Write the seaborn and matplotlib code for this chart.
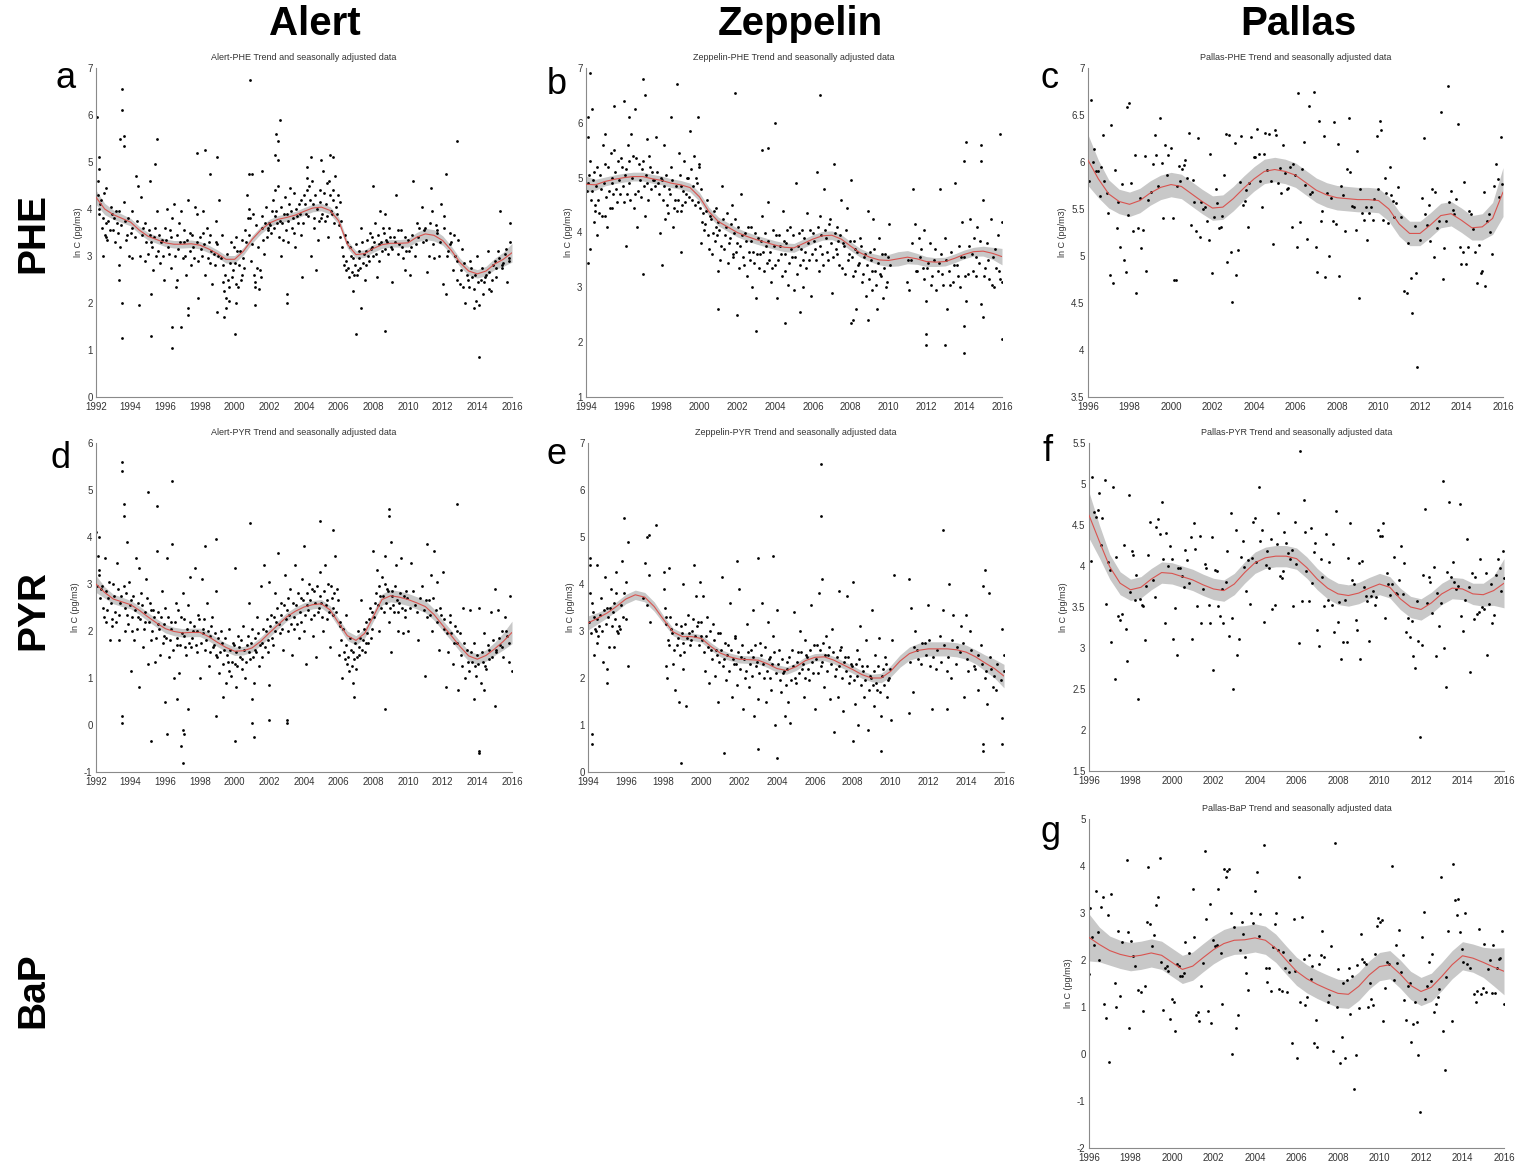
import numpy as np
import pandas as pd
import seaborn as sns
import matplotlib.pyplot as plt
from matplotlib.ticker import FuncFormatter

# ---------------- DATA ----------------
# Alert PHE (panel a)
alert_phe_pts = [(1992.05,5.95),(1992.1,4.6),(1992.2,5.1),(1992.2,4.85),(1993.5,6.55),(1993.5,6.1),(1993.6,5.55),(1993.6,5.35),(1993.4,5.5),(1993.5,2.0),(1993.5,1.25),(1993.3,2.5),(1993.3,2.8),(1994.5,1.95),(1995.2,1.3),(1995.5,5.5),(1995.4,4.95),(1995.1,4.6),(1995.2,2.2),(1996.4,1.05),(1996.4,1.5),(1996.9,1.5),(1997.3,1.75),(1997.3,1.9),(1997.9,2.1),(1997.8,5.2),(1998.3,5.25),(1998.6,4.75),(1999.0,5.1),(1999.0,1.8),(1999.4,1.7),(1999.5,1.9),(2000.0,1.35),(2000.1,2.0),(2000.9,6.75),(2000.8,4.75),(2001.0,4.75),(2001.2,1.95),(2001.6,4.8),(2002.4,5.6),(2002.5,5.45),(2002.6,5.9),(2002.3,5.15),(2002.5,5.05),(2003.0,2.0),(2003.0,2.2),(2004.4,5.1),(2004.2,4.9),(2005.0,5.05),(2005.5,5.15),(2005.7,5.1),(2007.3,1.9),(2007.0,1.35),(2008.7,1.4),(2008.0,4.5),(2010.3,4.6),(2012.2,4.75),(2012.8,5.45),(2014.1,0.85),(2013.8,1.9),(2015.3,3.95),(2015.9,3.7),
    (1992.1,4.3),(1992.15,4.0),(1992.2,3.9),(1992.3,4.2),(1992.4,3.8),(1992.5,3.45),(1992.6,3.4),(1992.7,3.75),(1992.8,3.55),(1992.9,3.9),(1992.4,3.0),(1992.6,4.45),(1993.0,3.55),(1993.1,3.3),(1993.2,3.7),(1993.3,3.95),(1993.4,3.2),(1993.6,4.15),(1993.7,3.75),(1993.8,3.45),(1993.9,3.0),(1994.0,3.5),(1994.1,3.6),(1994.1,2.95),(1994.3,4.7),(1994.4,4.5),(1994.6,4.25),(1994.7,3.6),(1994.8,2.9),(1994.9,3.3),(1995.0,3.05),(1995.1,3.45),(1995.2,3.3),(1995.3,2.7),(1995.4,3.6),(1995.5,3.95),(1995.6,3.1),(1995.7,2.85),(1995.8,3.35),(1995.9,2.5),(1996.0,3.6),(1996.1,4.0),(1996.2,3.05),(1996.3,2.75),(1996.4,3.8),(1996.5,4.1),(1996.6,2.35),(1996.7,2.5),(1996.8,3.7),(1996.9,3.95),(1997.0,2.95),(1997.1,3.3),(1997.2,2.6),(1997.3,4.2),(1997.4,3.5),(1997.5,2.8),(1997.6,3.2),(1997.7,4.05),(1997.8,3.9),(1997.9,2.9),(1998.0,3.4),(1998.1,3.0),(1998.2,3.95),(1998.3,2.6),(1998.4,3.6),(1998.5,3.3),(1998.6,2.85),(1998.7,2.4),(1998.8,3.05),(1998.9,3.75),(1999.0,3.25),(1999.1,4.2),(1999.2,2.95),(1999.3,2.45),(1999.4,2.25),(1999.5,2.1),(1999.6,2.5),(1999.7,2.05),(1999.8,3.3),(1999.9,2.7),(2000.0,2.85),(2000.1,3.4),(2000.2,2.35),(2000.3,3.1),(2000.4,2.6),(2000.5,2.95),(2000.6,3.55),(2000.7,4.3),(2000.8,4.0),(2000.9,3.8),(2001.0,3.25),(2001.1,2.6),(2001.2,2.35),(2001.3,2.75),(2001.4,2.3),(2001.5,2.55),(2001.6,3.6),(2001.7,3.05),(2001.8,4.05),(2001.9,3.55),(2002.0,3.7),(2002.1,3.5),(2002.2,4.2),(2002.3,4.4),(2002.4,3.95),(2002.5,4.5),(2002.6,3.75),(2002.7,3.0),(2002.8,3.35),(2002.9,4.25),(2003.0,3.9),(2003.1,3.3),(2003.2,4.45),(2003.3,3.6),(2003.4,4.35),(2003.5,3.2),(2003.6,3.85),(2003.7,4.1),(2003.8,3.45),(2003.9,2.55),(2004.0,4.3),(2004.1,3.9),(2004.2,4.65),(2004.3,4.5),(2004.4,3.0),(2004.5,4.1),(2004.6,3.6),(2004.7,2.7),(2004.8,3.35),(2004.9,4.4),(2005.0,3.8),(2005.1,4.8),(2005.2,3.75),(2005.3,4.55),(2005.4,3.4),(2005.5,4.3),(2005.6,3.9),(2005.7,4.4),(2005.8,4.7),(2005.9,3.9),(2006.0,3.65),(2006.1,4.15),(2006.2,3.2),(2006.3,2.8),(2006.4,2.7),(2006.5,3.3),(2006.6,2.55),(2006.7,3.0),(2006.8,2.25),(2006.9,2.6),(2007.0,3.25),(2007.1,2.7),(2007.2,2.95),(2007.3,3.6),(2007.4,2.85),(2007.5,2.5),(2007.6,3.1),(2007.7,3.0),(2007.8,3.5),(2007.9,3.2),(2008.0,3.0),(2008.1,3.7),(2008.2,2.55),(2008.3,3.25),(2008.4,3.95),(2008.5,3.1),(2008.6,3.5),(2008.7,3.9),(2008.8,3.3),(2008.9,3.6),(2009.0,3.2),(2009.1,2.45),(2009.2,3.4),(2009.3,4.3),(2009.4,3.05),(2009.5,3.25),(2009.6,3.55),(2009.7,2.95),(2009.8,2.7),(2009.9,3.1),(2010.0,3.35),(2010.1,2.6),(2010.2,3.2),(2010.4,3.0),(2010.5,3.7),(2010.6,3.4),(2010.8,4.05),(2010.9,3.55),(2011.0,3.6),(2011.1,2.65),(2011.2,3.0),(2011.3,4.45),(2011.4,3.95),(2011.5,2.95),(2011.6,3.65),(2011.7,3.5),(2011.8,3.0),(2011.9,4.1),(2012.0,2.4),(2012.1,3.85),(2012.2,2.2),(2012.3,3.1),(2012.4,3.5),(2012.5,3.3),(2012.6,2.7),(2012.7,3.0),(2012.8,2.5),(2012.9,3.35),(2013.0,2.4),(2013.1,3.15),(2013.2,2.35),(2013.3,2.0),(2013.4,2.6),(2013.5,2.35),(2013.6,2.9),(2013.7,2.55),(2013.8,2.3),(2013.9,2.05),(2014.0,3.0),(2014.1,1.95),(2014.2,2.5),(2014.3,2.2),(2014.4,2.45),(2014.5,2.6),(2014.6,3.1),(2014.7,2.3),(2014.8,2.25),(2014.9,2.8),(2015.0,2.9),(2015.1,2.55),(2015.2,3.1),(2015.4,2.75),(2015.5,2.85),(2015.6,3.05),(2015.7,2.45),(2015.8,2.95),(2015.9,3.3)]
alert_phe_pts_more = [(1992.25,4.1),(1992.35,3.6),(1992.45,4.35),(1992.55,3.7),(1992.65,3.35),(1992.85,4.05),(1993.05,3.8),(1993.15,3.95),(1993.25,3.5),(1993.45,3.65),(1993.75,3.35),(1993.85,3.8),(1994.05,3.95),(1994.25,3.4),(1994.35,3.75),(1994.55,3.0),(1994.65,3.45),(1994.85,3.7),(1995.05,3.55),(1995.25,3.2),(1995.35,3.4),(1995.45,3.0),(1995.65,3.45),(1995.75,3.3),(1995.85,3.0),(1996.05,3.35),(1996.15,3.2),(1996.25,3.55),(1996.35,3.4),(1996.55,3.0),(1996.65,3.45),(1996.75,3.15),(1996.85,3.3),(1997.05,3.55),(1997.15,3.0),(1997.25,3.35),(1997.45,3.1),(1997.55,3.45),(1997.65,2.95),(1997.85,3.3),(1998.05,3.15),(1998.15,3.5),(1998.25,3.25),(1998.45,2.95),(1998.55,3.45),(1998.65,3.1),(1998.85,2.8),(1998.95,3.3),(1999.05,3.0),(1999.25,3.45),(1999.35,2.8),(1999.45,2.6),(1999.55,3.05),(1999.65,2.35),(1999.75,2.85),(1999.85,2.55),(1999.95,3.2),(2000.05,2.4),(2000.15,3.1),(2000.25,2.8),(2000.35,2.5),(2000.45,3.35),(2000.55,2.75),(2000.65,3.3),(2000.75,3.8),(2000.85,3.45),(2000.95,2.9),(2001.05,3.9),(2001.15,2.45),(2001.25,3.65),(2001.35,3.2),(2001.45,2.7),(2001.55,3.85),(2001.65,3.35),(2001.75,3.7),(2001.85,3.4),(2001.95,3.6),(2002.05,3.65),(2002.15,3.95),(2002.25,3.6),(2002.35,3.85),(2002.45,3.7),(2002.55,3.4),(2002.65,4.05),(2002.75,3.7),(2002.85,3.9),(2002.95,3.55),(2003.05,3.75),(2003.15,4.1),(2003.25,3.95),(2003.35,3.8),(2003.45,3.5),(2003.55,4.0),(2003.65,3.7),(2003.75,3.9),(2003.85,4.2),(2003.95,3.7),(2004.05,4.1),(2004.15,4.4),(2004.25,3.85),(2004.35,4.2),(2004.45,4.6),(2004.55,3.8),(2004.65,4.3),(2004.75,4.0),(2004.85,3.75),(2004.95,4.15),(2005.05,3.9),(2005.15,4.35),(2005.25,4.1),(2005.35,3.85),(2005.45,4.6),(2005.55,3.95),(2005.65,4.2),(2005.75,3.7),(2005.85,4.05),(2005.95,4.3),(2006.05,3.4),(2006.15,3.75),(2006.25,3.0),(2006.35,3.45),(2006.45,2.9),(2006.55,2.75),(2006.65,3.2),(2006.75,2.65),(2006.85,2.95),(2006.95,2.8),(2007.05,2.6),(2007.15,3.1),(2007.25,2.75),(2007.35,3.3),(2007.45,3.05),(2007.55,2.8),(2007.65,3.35),(2007.75,2.9),(2007.85,3.15),(2007.95,3.4),(2008.05,3.3),(2008.15,3.05),(2008.25,3.45),(2008.35,2.9),(2008.45,3.3),(2008.55,3.6),(2008.65,3.15),(2008.75,3.35),(2008.85,3.05),(2008.95,3.4),(2009.05,3.15),(2009.25,3.3),(2009.45,3.55),(2009.65,3.2),(2009.85,3.4),(2010.05,3.1),(2010.25,3.45),(2010.45,3.25),(2010.65,3.6),(2010.85,3.3),(2011.05,3.35),(2011.25,3.7),(2011.45,3.25),(2011.65,3.55),(2011.85,3.3),(2012.05,3.6),(2012.25,3.0),(2012.45,3.25),(2012.65,3.45),(2012.85,2.9),(2013.05,2.7),(2013.25,2.85),(2013.45,2.5),(2013.65,2.75),(2013.85,2.6),(2014.05,2.45),(2014.25,2.75),(2014.45,2.55),(2014.65,2.65),(2014.85,2.5),(2015.05,2.75),(2015.25,2.95),(2015.45,2.8),(2015.65,3.15),(2015.85,2.9)]
alert_phe_trend = [4.25,4.0,3.88,3.8,3.72,3.55,3.42,3.35,3.28,3.25,
                   3.25,3.26,3.23,3.15,3.05,2.93,2.93,3.1,3.35,3.55,
                   3.7,3.78,3.82,3.87,3.95,4.02,4.04,3.97,3.75,3.25,
                   3.03,3.05,3.16,3.24,3.27,3.27,3.28,3.4,3.47,3.44,
                   3.33,3.12,2.86,2.68,2.62,2.68,2.83,2.93,3.07]
alert_phe_band = [0.15,0.12,0.10,0.09,0.08,0.08,0.08,0.08,0.08,0.08,
                  0.08,0.08,0.08,0.08,0.08,0.08,0.08,0.08,0.08,0.08,
                  0.08,0.08,0.08,0.08,0.08,0.08,0.08,0.08,0.08,0.08,
                  0.08,0.08,0.08,0.08,0.08,0.08,0.09,0.10,0.12,0.12,
                  0.10,0.09,0.09,0.09,0.09,0.10,0.12,0.15,0.20]

# Zeppelin PHE (panel b)
zep_phe_pts = [(1994.1,6.1),(1994.1,5.75),(1994.2,6.9),(1994.3,6.25),(1994.1,3.45),(1994.2,3.7),(1995.0,5.8),(1995.5,6.3),(1996.0,6.4),(1996.1,3.75),(1996.6,6.25),(1997.0,6.8),(1997.1,6.5),(1997.0,3.25),(1998.0,3.4),(1998.5,6.1),(1998.8,6.7),(1999.0,3.65),(1999.9,6.1),(2001.0,2.6),(2001.9,6.55),(2002.0,2.5),(2003.0,2.2),(2003.3,5.5),(2003.6,5.55),(2004.0,6.0),(2004.5,2.35),(2005.3,2.55),(2006.4,6.5),(2008.0,2.35),(2008.1,2.4),(2008.9,2.4),(2012.0,2.15),(2012.0,1.95),(2013.0,1.95),(2014.0,1.8),(2014.0,2.3),(2014.0,5.3),(2014.1,5.65),(2014.9,5.6),(2014.9,5.3),(2015.9,5.8),(2016.0,2.05),(2011.3,4.8),(2015.0,2.45),
    (1994.1,4.9),(1994.2,5.3),(1994.3,4.75),(1994.4,4.2),(1994.4,5.1),(1994.5,4.5),(1994.6,3.95),(1994.6,5.2),(1994.7,4.35),(1994.8,4.8),(1994.9,5.6),(1995.0,4.3),(1995.0,5.25),(1995.1,4.1),(1995.2,4.75),(1995.3,5.45),(1995.4,5.0),(1995.4,4.45),(1995.5,5.5),(1995.6,4.8),(1995.7,5.3),(1995.8,4.7),(1995.9,5.2),(1996.0,4.55),(1996.1,5.15),(1996.2,5.6),(1996.3,6.1),(1996.3,4.9),(1996.4,5.8),(1996.5,5.4),(1996.6,4.7),(1996.7,4.1),(1996.8,5.25),(1996.9,4.65),(1997.0,5.3),(1997.1,4.3),(1997.2,5.7),(1997.3,4.6),(1997.4,5.2),(1997.5,5.1),(1997.6,4.95),(1997.7,5.75),(1997.8,4.9),(1997.9,4.0),(1998.0,4.95),(1998.1,5.6),(1998.2,4.25),(1998.3,4.5),(1998.4,4.8),(1998.5,5.2),(1998.6,4.1),(1998.7,4.6),(1998.8,4.4),(1998.9,5.45),(1999.0,4.85),(1999.1,4.5),(1999.2,5.3),(1999.3,4.7),(1999.4,5.0),(1999.5,5.85),(1999.6,4.6),(1999.7,5.4),(1999.8,5.0),(1999.9,4.55),(2000.0,5.2),(2000.1,4.8),(2000.1,3.8),(2000.2,4.35),(2000.3,4.15),(2000.4,4.6),(2000.5,3.7),(2000.6,4.25),(2000.7,4.0),(2000.8,3.85),(2000.9,4.45),(2001.0,4.2),(2001.0,3.3),(2001.1,3.5),(2001.2,4.85),(2001.3,3.7),(2001.4,4.1),(2001.5,3.45),(2001.6,3.9),(2001.7,4.5),(2001.8,3.6),(2001.9,4.25),(2002.0,3.8),(2002.1,3.35),(2002.2,4.7),(2002.3,3.55),(2002.4,4.0),(2002.5,3.2),(2002.6,3.65),(2002.7,4.1),(2002.8,3.0),(2002.9,3.45),(2003.0,2.8),(2003.1,3.9),(2003.2,3.6),(2003.3,4.3),(2003.4,3.3),(2003.5,3.75),(2003.6,4.55),(2003.7,3.5),(2003.8,3.1),(2003.9,4.05),(2004.0,3.4),(2004.1,2.8),(2004.2,3.95),(2004.3,3.6),(2004.4,4.4),(2004.5,3.3),(2004.6,3.8),(2004.7,3.05),(2004.8,4.1),(2004.9,3.55),(2005.0,2.95),(2005.1,4.9),(2005.2,3.75),(2005.3,3.4),(2005.4,4.05),(2005.5,3.0),(2005.6,3.65),(2005.7,4.35),(2005.8,3.5),(2005.9,2.85),(2006.0,4.0),(2006.1,3.7),(2006.2,5.1),(2006.3,3.3),(2006.4,4.3),(2006.5,3.6),(2006.6,4.8),(2006.7,3.9),(2006.8,3.5),(2006.9,4.25),(2007.0,2.9),(2007.1,5.25),(2007.2,3.7),(2007.3,4.1),(2007.4,3.4),(2007.5,4.6),(2007.6,3.8),(2007.7,3.25),(2007.8,4.45),(2007.9,3.6),(2008.0,4.95),(2008.1,3.2),(2008.2,3.7),(2008.3,2.6),(2008.4,3.4),(2008.5,3.9),(2008.6,3.1),(2008.7,3.55),(2008.8,2.85),(2008.9,4.4),(2009.0,3.65),(2009.1,2.95),(2009.2,4.25),(2009.3,3.3),(2009.4,2.6),(2009.5,3.9),(2009.6,3.2),(2009.7,2.8),(2009.8,3.6),(2009.9,3.1),(2010.0,4.15),(2010.1,3.4),(2011.0,3.1),(2011.1,2.95),(2011.2,3.5),(2011.4,4.15),(2011.5,3.3),(2011.6,3.9),(2011.7,3.7),(2011.8,3.35),(2011.9,4.05),(2012.0,2.75),(2012.1,3.45),(2012.2,3.8),(2012.3,3.2),(2012.4,3.5),(2012.5,2.95),(2012.6,3.3),(2012.7,4.8),(2012.8,3.6),(2012.9,3.05),(2013.0,3.9),(2013.1,2.6),(2013.2,3.3),(2013.3,3.65),(2013.4,3.1),(2013.5,4.9),(2013.6,3.4),(2013.7,3.75),(2013.8,3.0),(2013.9,4.2),(2014.0,3.55),(2014.1,2.75),(2014.2,3.25),(2014.3,4.25),(2014.4,3.6),(2014.5,3.9),(2014.6,3.2),(2014.7,4.1),(2014.8,3.45),(2014.9,2.7),(2015.0,4.6),(2015.1,3.35),(2015.2,3.8),(2015.3,3.15),(2015.4,4.25),(2015.5,3.55),(2015.6,3.0),(2015.7,3.35),(2015.8,3.95),(2015.9,3.15),(2016.0,4.2),(2016.0,3.1)]
zep_phe_pts_more = [(1994.05,4.75),(1994.15,5.05),(1994.25,4.6),(1994.35,4.95),(1994.45,4.4),(1994.55,4.85),(1994.65,4.6),(1994.75,5.05),(1994.85,4.3),(1994.95,4.9),(1995.05,4.65),(1995.15,5.2),(1995.25,4.45),(1995.35,4.9),(1995.45,4.7),(1995.55,5.1),(1995.65,4.55),(1995.75,4.95),(1995.85,5.35),(1995.95,4.85),(1996.05,5.05),(1996.15,4.7),(1996.25,5.3),(1996.35,4.6),(1996.45,5.0),(1996.55,4.45),(1996.65,5.35),(1996.75,4.75),(1996.85,4.95),(1996.95,5.15),(1997.05,4.85),(1997.15,5.05),(1997.25,4.9),(1997.35,5.4),(1997.45,4.8),(1997.55,4.95),(1997.65,4.85),(1997.75,5.1),(1997.85,4.7),(1997.95,5.0),(1998.05,4.6),(1998.15,4.85),(1998.25,5.05),(1998.35,4.35),(1998.45,4.7),(1998.55,4.95),(1998.65,4.45),(1998.75,4.85),(1998.85,4.6),(1998.95,5.05),(1999.05,4.4),(1999.15,4.75),(1999.25,4.55),(1999.35,5.0),(1999.45,4.65),(1999.55,5.15),(1999.65,4.85),(1999.75,4.5),(1999.85,4.9),(1999.95,5.25),(2000.05,4.45),(2000.15,4.2),(2000.25,4.05),(2000.35,4.4),(2000.45,3.95),(2000.55,4.3),(2000.65,3.6),(2000.75,4.4),(2000.85,4.1),(2000.95,3.95),(2001.05,4.05),(2001.15,3.75),(2001.25,4.25),(2001.35,3.95),(2001.45,4.35),(2001.55,3.8),(2001.65,4.15),(2001.75,3.55),(2001.85,4.0),(2001.95,3.65),(2002.05,4.1),(2002.15,3.75),(2002.25,3.95),(2002.35,3.4),(2002.45,3.85),(2002.55,4.1),(2002.65,3.5),(2002.75,3.85),(2002.85,3.65),(2002.95,4.0),(2003.05,3.6),(2003.15,3.35),(2003.25,3.85),(2003.35,3.65),(2003.45,4.0),(2003.55,3.45),(2003.65,3.85),(2003.75,3.65),(2003.85,3.35),(2003.95,3.75),(2004.05,3.95),(2004.15,3.5),(2004.25,3.75),(2004.35,3.2),(2004.45,3.85),(2004.55,3.6),(2004.65,4.05),(2004.75,3.45),(2004.85,3.7),(2004.95,3.95),(2005.05,3.55),(2005.15,3.25),(2005.25,4.0),(2005.35,3.7),(2005.45,3.5),(2005.55,3.9),(2005.65,3.35),(2005.75,3.8),(2005.85,4.05),(2005.95,3.6),(2006.05,3.85),(2006.15,3.5),(2006.25,4.1),(2006.35,3.75),(2006.45,3.95),(2006.55,3.4),(2006.65,4.05),(2006.75,3.65),(2006.85,4.15),(2006.95,3.8),(2007.05,3.55),(2007.15,4.0),(2007.25,3.6),(2007.35,3.85),(2007.45,3.95),(2007.55,3.35),(2007.65,3.75),(2007.75,4.05),(2007.85,3.5),(2007.95,3.85),(2008.05,3.55),(2008.15,3.85),(2008.25,3.3),(2008.35,3.65),(2008.45,3.45),(2008.55,3.75),(2008.65,3.25),(2008.75,3.6),(2008.85,3.4),(2008.95,3.15),(2009.05,3.5),(2009.15,3.3),(2009.25,3.7),(2009.35,3.05),(2009.45,3.45),(2009.55,3.25),(2009.65,3.6),(2009.75,3.35),(2009.85,3.0),(2009.95,3.55),(2011.05,3.5),(2011.25,3.8),(2011.45,3.3),(2011.65,3.55),(2011.85,3.15),(2012.05,3.35),(2012.25,3.05),(2012.45,3.7),(2012.65,3.45),(2012.85,3.25),(2013.05,3.5),(2013.25,3.05),(2013.45,3.4),(2013.65,3.2),(2013.85,3.55),(2014.05,3.2),(2014.25,3.75),(2014.45,3.3),(2014.65,3.55),(2014.85,3.85),(2015.05,3.2),(2015.25,3.5),(2015.45,3.05),(2015.65,3.7),(2015.85,3.3)]
zep_phe_trend = [4.88,4.87,4.93,4.97,5.0,5.02,5.02,4.98,4.95,4.9,
                 4.87,4.82,4.65,4.38,4.2,4.1,4.0,3.93,3.87,3.82,
                 3.77,3.73,3.72,3.8,3.88,3.94,3.95,3.88,3.75,3.63,
                 3.55,3.5,3.49,3.52,3.55,3.52,3.47,3.46,3.47,3.53,
                 3.6,3.65,3.66,3.62,3.56]
zep_phe_band = [0.15,0.10,0.08,0.08,0.08,0.08,0.08,0.08,0.08,0.08,
                0.08,0.08,0.08,0.08,0.08,0.08,0.08,0.08,0.08,0.08,
                0.08,0.08,0.08,0.08,0.08,0.08,0.08,0.08,0.08,0.08,
                0.08,0.09,0.11,0.13,0.12,0.10,0.09,0.08,0.08,0.08,
                0.08,0.08,0.09,0.11,0.15]

# Pallas PHE (panel c)
pal_phe_pts = [(1996.06,5.8),(1996.13,6.66),(1996.24,6.0),(1996.3,6.14),(1996.39,5.9),(1996.48,5.9),(1996.56,5.64),(1996.64,5.95),(1996.72,6.29),(1996.79,5.8),(1996.9,5.67),(1996.98,5.46),(1997.06,4.8),(1997.12,6.39),(1997.2,4.71),(1997.3,5.91),(1997.38,5.3),(1997.46,5.57),(1997.54,5.1),(1997.64,5.77),(1997.73,4.96),(1997.83,4.83),(1997.9,6.59),(1997.99,6.63),(1997.94,5.44),(1998.09,5.78),(1998.18,5.27),(1998.25,6.07),(1998.33,4.61),(1998.41,5.3),(1998.49,5.62),(1998.57,5.09),(1998.65,5.28),(1998.73,6.06),(1998.81,4.84),(1998.91,5.6),(1999.04,5.68),(1999.13,5.98),(1999.21,6.29),(1999.29,6.07),(1999.37,5.75),(1999.47,6.47),(1999.55,5.99),(1999.63,5.4),(1999.71,6.18),(1999.79,5.86),(1999.87,6.07),(1999.98,6.15),(2000.1,5.4),(2000.13,4.74),(2000.24,4.74),(2000.29,5.75),(2000.37,5.96),(2000.45,5.8),(2000.53,5.93),(2000.61,5.97),(2000.69,6.02),(2000.77,5.83),(2000.87,6.31),(2000.95,5.33),(2001.04,5.81),(2001.12,5.57),(2001.2,5.27),(2001.3,6.26),(2001.38,5.2),(2001.46,5.57),(2001.56,5.5),(2001.64,5.52),(2001.73,5.37),(2001.82,5.17),(2001.9,6.09),(2001.96,4.82),(2002.06,5.42),(2002.15,5.71),(2002.23,5.56),(2002.31,5.3),(2002.39,5.31),(2002.46,5.43),(2002.55,5.86),(2002.63,6.3),(2002.71,4.94),(2002.8,6.29),(2002.88,5.04),(2002.94,4.51),(2003.07,6.2),(2003.13,4.8),(2003.23,5.06),(2003.31,5.79),(2003.39,6.28),(2003.45,5.54),(2003.55,5.59),(2003.63,5.7),(2003.73,5.31),(2003.78,5.78),(2003.87,6.27),(2003.98,6.05),(2004.06,6.05),(2004.14,6.35),(2004.22,6.08),(2004.31,5.8),(2004.39,5.52),(2004.47,6.09),(2004.55,6.31),(2004.63,5.92),(2004.72,6.3),(2004.82,5.8),(2004.9,5.13),(2004.99,6.34),(2005.08,6.29),(2005.16,5.78),(2005.24,5.94),(2005.32,5.67),(2005.4,6.18),(2005.49,5.88),(2005.57,5.71),(2005.65,5.72),(2005.74,5.95),(2005.82,5.31),(2005.9,5.98),(2005.98,5.86),(2006.06,5.1),(2006.14,6.73),(2006.23,5.36),(2006.31,5.93),(2006.39,6.21),(2006.46,5.76),(2006.54,5.18),(2006.63,6.6),(2006.71,5.66),(2006.8,5.68),(2006.89,6.74),(2006.97,5.1),(2007.05,4.83),(2007.13,6.44),(2007.21,5.37),(2007.29,5.48),(2007.36,6.28),(2007.44,4.78),(2007.53,5.67),(2007.61,5.0),(2007.71,5.62),(2007.79,5.37),(2007.87,6.43),(2007.95,5.34),(2008.03,6.19),(2008.11,4.79),(2008.19,5.75),(2008.29,5.65),(2008.39,5.27),(2008.48,5.93),(2008.56,6.47),(2008.64,5.89),(2008.72,5.53),(2008.8,5.52),(2008.9,5.28),(2008.98,6.12),(2009.04,4.55),(2009.12,5.71),(2009.22,5.46),(2009.3,5.38),(2009.38,5.52),(2009.46,5.17),(2009.54,5.46),(2009.62,5.52),(2009.72,5.38),(2009.8,5.61),(2009.93,6.28),(2009.99,5.71),(2010.07,6.44),(2010.14,6.34),(2010.22,5.38),(2010.3,5.83),(2010.38,5.67),(2010.46,5.35),(2010.54,5.95),(2010.62,5.65),(2010.7,5.59),(2010.76,5.42),(2010.86,5.56),(2010.96,5.73),(2011.07,5.41),(2011.21,4.63),(2011.37,4.61),(2011.44,5.14),(2011.55,4.77),(2011.63,4.39),(2011.74,5.32),(2011.81,4.82),(2011.87,3.82),(2011.98,5.17),(2012.08,5.62),(2012.18,6.26),(2012.26,5.45),(2012.34,5.33),(2012.42,5.54),(2012.5,5.16),(2012.59,5.71),(2012.67,4.99),(2012.73,5.68),(2012.82,5.3),(2012.9,5.37),(2013.01,6.53),(2013.11,4.76),(2013.17,5.08),(2013.25,5.37),(2013.33,6.81),(2013.4,5.57),(2013.49,5.69),(2013.57,5.49),(2013.65,5.45),(2013.73,5.61),(2013.81,6.4),(2013.91,5.1),(2013.99,4.91),(2014.06,5.04),(2014.14,5.79),(2014.22,4.91),(2014.3,5.1),(2014.38,5.48),(2014.47,5.45),(2014.55,5.29),(2014.67,5.04),(2014.75,4.71),(2014.83,5.12),(2014.92,4.82),(2015.0,4.84),(2015.07,5.68),(2015.15,4.68),(2015.23,5.37),(2015.31,5.45),(2015.39,5.26),(2015.49,5.02),(2015.57,5.74),(2015.65,5.98),(2015.74,5.82),(2015.82,5.63),(2015.9,6.27),(2015.97,5.77)]
pal_phe_trend = [6.02,5.82,5.66,5.58,5.55,5.59,5.67,5.73,5.76,5.74,
                 5.66,5.58,5.51,5.52,5.61,5.72,5.82,5.9,5.92,5.9,
                 5.86,5.78,5.7,5.65,5.62,5.61,5.6,5.6,5.59,5.5,
                 5.34,5.24,5.24,5.33,5.43,5.45,5.38,5.3,5.31,5.4,
                 5.68]
pal_phe_band = [0.27,0.20,0.15,0.13,0.13,0.13,0.13,0.13,0.13,0.13,
                0.13,0.13,0.13,0.13,0.13,0.13,0.13,0.13,0.13,0.13,
                0.13,0.13,0.13,0.13,0.13,0.13,0.13,0.13,0.13,0.13,
                0.13,0.13,0.13,0.13,0.13,0.13,0.13,0.13,0.14,0.17,
                0.26]

# Alert PYR (panel d)
alert_pyr_pts = [(1992.0,4.1),(1992.2,4.0),(1992.1,3.6),(1993.5,5.6),(1993.5,5.4),(1993.6,4.7),(1993.6,4.45),(1993.8,3.9),(1993.5,0.2),(1993.5,0.05),(1994.5,0.8),(1994.0,1.15),(1995.0,4.95),(1995.2,-0.35),(1995.5,4.65),(1996.1,-0.2),(1996.4,5.2),(1996.0,0.5),(1996.7,0.55),(1997.0,-0.1),(1996.9,-0.45),(1997.0,-0.8),(1997.1,-0.2),(1997.3,0.35),(1998.3,3.8),(1998.9,3.95),(1998.9,0.2),(2000.0,-0.35),(2000.0,3.35),(2000.9,4.3),(2001.0,0.05),(2001.1,-0.25),(2001.0,0.55),(2002.0,0.85),(2002.0,0.1),(2003.0,0.05),(2003.0,0.1),(2004.9,4.35),(2005.7,4.15),(2006.9,0.6),(2008.7,0.35),(2008.9,4.6),(2008.9,4.45),(2009.0,3.9),(2011.1,3.85),(2011.5,3.7),(2012.8,4.7),(2014.1,-0.55),(2014.1,-0.6),(2013.8,0.55),(2014.4,0.75),(2015.0,0.4),
    (1992.2,3.3),(1992.3,2.9),(1992.4,2.5),(1992.5,3.55),(1992.6,2.2),(1992.7,2.7),(1992.8,1.8),(1992.9,2.1),(1993.0,3.0),(1993.1,2.4),(1993.2,3.45),(1993.3,1.8),(1993.4,2.6),(1993.6,2.95),(1993.7,2.0),(1993.8,2.35),(1993.9,3.05),(1994.0,2.65),(1994.1,2.0),(1994.2,1.8),(1994.3,3.55),(1994.4,2.3),(1994.5,3.35),(1994.6,2.8),(1994.7,1.65),(1994.8,2.2),(1994.9,3.1),(1995.0,1.3),(1995.1,2.6),(1995.2,1.8),(1995.3,2.45),(1995.4,1.35),(1995.5,3.7),(1995.6,2.15),(1995.7,1.5),(1995.8,2.85),(1995.9,1.9),(1996.0,2.5),(1996.1,3.55),(1996.2,1.45),(1996.3,2.2),(1996.4,3.85),(1996.5,1.0),(1996.6,2.6),(1996.7,1.7),(1996.8,1.1),(1996.9,2.3),(1997.0,2.8),(1997.1,1.9),(1997.2,1.5),(1997.3,2.55),(1997.4,3.15),(1997.5,1.65),(1997.6,2.0),(1997.7,3.35),(1997.8,1.55),(1997.9,2.35),(1998.0,1.0),(1998.1,3.1),(1998.2,2.05),(1998.3,1.6),(1998.4,2.6),(1998.5,1.25),(1998.6,1.9),(1998.7,2.3),(1998.8,1.7),(1998.9,2.85),(1999.0,1.45),(1999.1,1.1),(1999.2,2.0),(1999.3,0.6),(1999.4,1.6),(1999.5,0.9),(1999.6,1.35),(1999.7,2.05),(1999.8,1.05),(1999.9,1.75),(2000.0,1.3),(2000.1,0.8),(2000.2,1.9),(2000.3,1.45),(2000.4,1.2),(2000.5,2.1),(2000.6,1.0),(2000.7,1.7),(2000.8,2.6),(2000.9,1.4),(2001.0,2.05),(2001.1,0.9),(2001.2,1.6),(2001.3,2.3),(2001.4,1.25),(2001.5,2.95),(2001.6,1.75),(2001.7,3.4),(2001.8,2.0),(2001.9,1.55),(2002.0,3.05),(2002.1,2.35),(2002.2,1.7),(2002.3,2.8),(2002.4,2.2),(2002.5,3.65),(2002.6,1.95),(2002.7,2.6),(2002.8,1.6),(2002.9,3.2),(2003.0,2.45),(2003.1,2.0),(2003.2,2.9),(2003.3,1.5),(2003.4,2.3),(2003.5,3.4),(2003.6,2.15),(2003.7,1.85),(2003.8,2.7),(2003.9,3.1),(2004.0,3.8),(2004.0,2.0),(2004.1,1.3),(2004.2,2.55),(2004.3,3.0),(2004.4,2.25),(2004.5,1.9),(2004.6,2.85),(2004.7,1.45),(2004.8,2.4),(2004.9,3.25),(2005.0,2.6),(2005.1,2.0),(2005.2,3.4),(2005.3,2.25),(2005.4,3.0),(2005.5,1.65),(2005.6,2.7),(2005.7,2.35),(2005.8,3.6),(2005.9,2.9),(2006.0,1.5),(2006.1,2.1),(2006.2,1.0),(2006.3,1.55),(2006.4,2.35),(2006.5,1.3),(2006.6,1.15),(2006.7,1.6),(2006.8,0.9),(2006.9,1.4),(2007.0,1.2),(2007.1,2.0),(2007.2,1.5),(2007.3,2.65),(2007.4,1.8),(2007.5,1.55),(2007.6,2.2),(2007.7,1.75),(2007.8,2.5),(2007.9,2.05),(2008.0,3.7),(2008.1,2.6),(2008.2,3.3),(2008.3,2.0),(2008.4,2.75),(2008.5,3.15),(2008.6,2.4),(2008.7,3.6),(2008.8,2.9),(2008.9,2.2),(2009.0,1.55),(2009.1,2.85),(2009.2,2.4),(2009.3,3.4),(2009.4,2.0),(2009.5,2.6),(2009.6,3.55),(2009.7,1.95),(2009.8,2.3),(2009.9,2.85),(2010.0,2.0),(2010.2,3.45),(2010.4,2.55),(2010.6,1.8),(2010.8,2.95),(2011.0,1.05),(2011.1,2.3),(2011.2,2.65),(2011.3,3.2),(2011.4,2.0),(2011.6,2.45),(2011.7,3.05),(2011.8,1.6),(2011.9,2.35),(2012.0,3.25),(2012.1,2.05),(2012.2,0.8),(2012.3,1.55),(2012.4,2.35),(2012.5,1.95),(2012.6,1.3),(2012.7,2.1),(2012.8,1.75),(2012.9,0.75),(2013.0,1.95),(2013.1,1.25),(2013.2,2.5),(2013.3,1.0),(2013.4,1.6),(2013.5,1.15),(2013.6,2.45),(2013.7,1.35),(2013.8,1.75),(2013.9,1.05),(2014.0,1.5),(2014.1,2.5),(2014.2,0.9),(2014.3,1.35),(2014.4,1.95),(2014.5,1.2),(2014.6,1.7),(2014.7,1.4),(2014.8,2.4),(2014.9,1.8),(2015.0,2.9),(2015.1,1.55),(2015.2,2.45),(2015.3,1.7),(2015.4,2.0),(2015.5,1.45),(2015.6,2.3),(2015.7,1.9),(2015.8,1.35),(2015.9,2.75),(2016.0,1.15)]
alert_pyr_pts_more = [(1992.05,2.95),(1992.15,3.2),(1992.25,2.7),(1992.35,2.95),(1992.45,2.3),(1992.55,2.85),(1992.65,2.45),(1992.75,3.05),(1992.85,2.6),(1992.95,2.25),(1993.05,2.75),(1993.15,2.2),(1993.25,2.9),(1993.35,2.35),(1993.45,2.75),(1993.65,2.5),(1993.75,2.8),(1993.85,2.15),(1993.95,2.55),(1994.05,2.3),(1994.15,2.75),(1994.25,2.45),(1994.35,2.05),(1994.45,2.6),(1994.55,2.25),(1994.65,2.55),(1994.75,2.05),(1994.85,2.4),(1994.95,2.7),(1995.05,2.2),(1995.15,2.45),(1995.25,2.0),(1995.35,2.3),(1995.45,1.85),(1995.55,2.4),(1995.65,2.05),(1995.75,2.3),(1995.85,1.75),(1995.95,2.15),(1996.05,1.85),(1996.15,2.3),(1996.25,1.8),(1996.35,2.05),(1996.45,1.6),(1996.55,2.2),(1996.65,1.85),(1996.75,2.45),(1996.85,1.7),(1996.95,1.95),(1997.05,2.25),(1997.15,1.65),(1997.25,2.05),(1997.35,1.75),(1997.45,2.2),(1997.55,1.85),(1997.65,2.1),(1997.75,1.7),(1997.85,2.0),(1997.95,2.25),(1998.05,1.75),(1998.15,1.95),(1998.25,2.25),(1998.35,1.8),(1998.45,2.0),(1998.55,1.55),(1998.65,2.1),(1998.75,1.65),(1998.85,1.95),(1998.95,1.5),(1999.05,1.85),(1999.15,1.55),(1999.25,1.75),(1999.35,1.3),(1999.45,1.85),(1999.55,1.5),(1999.65,1.15),(1999.75,1.6),(1999.85,1.35),(1999.95,1.7),(2000.05,1.55),(2000.15,1.25),(2000.25,1.65),(2000.35,1.8),(2000.45,1.4),(2000.55,1.6),(2000.65,1.35),(2000.75,1.9),(2000.85,1.55),(2000.95,1.75),(2001.05,1.45),(2001.15,1.85),(2001.25,1.55),(2001.35,1.95),(2001.45,1.7),(2001.55,1.45),(2001.65,2.05),(2001.75,1.65),(2001.85,2.25),(2001.95,1.8),(2002.05,2.1),(2002.15,1.85),(2002.25,2.3),(2002.35,2.0),(2002.45,2.5),(2002.55,2.15),(2002.65,2.35),(2002.75,2.05),(2002.85,2.55),(2002.95,2.25),(2003.05,2.7),(2003.15,2.35),(2003.25,2.15),(2003.35,2.6),(2003.45,2.05),(2003.55,2.55),(2003.65,2.8),(2003.75,2.4),(2003.85,2.2),(2003.95,2.65),(2004.05,2.35),(2004.15,2.8),(2004.25,2.45),(2004.35,2.65),(2004.45,2.9),(2004.55,2.35),(2004.65,2.6),(2004.75,2.95),(2004.85,2.5),(2004.95,2.75),(2005.05,2.3),(2005.15,2.85),(2005.25,2.55),(2005.35,2.65),(2005.45,2.4),(2005.55,2.95),(2005.65,2.5),(2005.75,2.8),(2005.85,2.4),(2005.95,2.65),(2006.05,2.2),(2006.15,1.8),(2006.25,2.05),(2006.35,1.4),(2006.45,1.7),(2006.55,1.45),(2006.65,1.85),(2006.75,1.25),(2006.85,1.55),(2006.95,1.75),(2007.05,1.45),(2007.15,1.65),(2007.25,1.85),(2007.35,1.6),(2007.45,2.05),(2007.55,1.75),(2007.65,1.95),(2007.75,2.25),(2007.85,1.85),(2007.95,2.4),(2008.05,2.3),(2008.15,2.8),(2008.25,2.55),(2008.35,2.95),(2008.45,2.5),(2008.55,2.75),(2008.65,3.0),(2008.75,2.6),(2008.85,2.85),(2008.95,2.5),(2009.05,2.75),(2009.15,2.55),(2009.25,2.95),(2009.35,2.65),(2009.45,2.4),(2009.55,2.8),(2009.65,2.5),(2009.75,2.75),(2009.85,2.45),(2009.95,2.7),(2010.1,2.5),(2010.3,2.85),(2010.5,2.4),(2010.7,2.7),(2010.9,2.45),(2011.05,2.65),(2011.25,2.35),(2011.45,2.7),(2011.65,2.2),(2011.85,2.5),(2012.05,2.25),(2012.25,1.95),(2012.45,2.2),(2012.65,1.75),(2012.85,2.0),(2013.05,1.5),(2013.25,1.75),(2013.45,1.35),(2013.65,1.55),(2013.85,1.25),(2014.05,1.3),(2014.25,1.55),(2014.45,1.25),(2014.65,1.6),(2014.85,1.45),(2015.05,1.6),(2015.25,1.85),(2015.45,1.65),(2015.65,2.0),(2015.85,1.75)]
alert_pyr_trend = [3.0,2.82,2.68,2.62,2.56,2.44,2.3,2.17,2.05,1.99,
                   1.96,1.97,1.97,1.88,1.76,1.65,1.57,1.58,1.64,1.78,
                   1.96,2.13,2.3,2.42,2.51,2.56,2.58,2.45,2.17,1.9,
                   1.8,1.95,2.31,2.67,2.75,2.72,2.67,2.6,2.52,2.35,
                   2.12,1.9,1.67,1.47,1.4,1.48,1.62,1.78,1.97]
alert_pyr_band = [0.18,0.12,0.10,0.10,0.09,0.09,0.09,0.09,0.09,0.09,
                  0.09,0.09,0.09,0.09,0.09,0.09,0.09,0.09,0.09,0.09,
                  0.09,0.09,0.09,0.09,0.09,0.09,0.09,0.09,0.09,0.10,
                  0.10,0.10,0.10,0.12,0.13,0.13,0.13,0.13,0.13,0.12,
                  0.11,0.11,0.11,0.11,0.11,0.12,0.14,0.18,0.24]

# Zeppelin PYR (panel e)
zep_pyr_pts = [(1994.1,4.55),(1994.1,4.4),(1994.2,0.8),(1994.2,0.6),(1995.0,1.9),(1995.9,5.4),(1996.1,4.9),(1996.1,2.25),(1997.1,5.0),(1997.2,5.05),(1997.6,5.25),(1998.9,0.2),(2001.2,0.4),(2001.9,4.5),(2003.0,4.55),(2003.0,0.5),(2003.8,4.6),(2004.0,0.3),(2006.3,6.55),(2006.3,5.45),(2012.8,5.15),(2014.9,0.45),(2014.9,0.6),(2015.9,0.6),(2015.9,1.15),(2015.0,4.3),(2013.1,4.0),
    (1994.1,3.8),(1994.2,3.6),(1994.3,3.3),(1994.3,2.5),(1994.4,3.0),(1994.5,2.75),(1994.5,4.4),(1994.6,3.1),(1994.7,3.7),(1994.8,2.35),(1994.9,4.15),(1995.0,3.5),(1995.0,2.2),(1995.1,2.65),(1995.2,3.9),(1995.3,3.4),(1995.4,2.65),(1995.5,3.8),(1995.5,4.25),(1995.6,2.95),(1995.7,3.05),(1995.8,4.5),(1995.9,3.8),(1996.0,4.05),(1996.0,3.25),(1996.9,3.7),(1997.0,4.45),(1997.1,3.55),(1997.2,4.2),(1997.3,3.2),(1998.0,4.25),(1998.0,3.9),(1998.1,3.3),(1998.1,2.25),(1998.2,2.0),(1998.3,4.35),(1998.3,2.7),(1998.4,3.05),(1998.5,2.3),(1998.6,1.75),(1998.7,2.7),(1998.8,1.5),(1998.9,3.1),(1999.0,2.2),(1999.0,4.0),(1999.1,2.55),(1999.2,1.4),(1999.3,3.35),(1999.4,2.7),(1999.5,3.0),(1999.6,4.4),(1999.7,3.75),(1999.8,3.2),(1999.9,4.05),(2000.0,2.9),(2000.1,3.75),(2000.2,2.15),(2000.3,3.3),(2000.4,1.9),(2000.5,2.6),(2000.6,3.15),(2000.7,2.05),(2000.8,2.5),(2000.9,1.5),(2001.0,2.95),(2001.1,4.15),(2001.2,2.4),(2001.3,1.95),(2001.4,2.7),(2001.5,3.6),(2001.6,1.6),(2001.7,2.3),(2001.8,2.9),(2001.9,1.85),(2002.0,3.9),(2002.1,2.45),(2002.2,1.35),(2002.3,2.0),(2002.4,3.15),(2002.5,1.8),(2002.6,2.6),(2002.7,3.45),(2002.8,1.2),(2002.9,2.25),(2003.0,1.55),(2003.1,2.75),(2003.2,3.6),(2003.3,2.0),(2003.4,1.5),(2003.5,3.2),(2003.6,2.45),(2003.7,1.75),(2003.8,2.9),(2003.9,1.0),(2004.0,3.45),(2004.1,2.6),(2004.2,1.7),(2004.3,2.1),(2004.4,1.2),(2004.5,2.35),(2004.6,1.5),(2004.7,1.05),(2004.8,2.6),(2004.9,3.4),(2005.0,1.9),(2005.1,2.55),(2005.2,3.0),(2005.3,2.2),(2005.4,1.6),(2005.5,2.8),(2005.6,2.45),(2005.7,1.95),(2005.8,3.55),(2005.9,2.1),(2006.0,1.35),(2006.1,2.7),(2006.2,3.8),(2006.3,2.25),(2006.4,4.1),(2006.5,1.8),(2006.6,2.9),(2006.7,2.5),(2006.8,1.55),(2006.9,3.05),(2007.0,0.85),(2007.1,2.2),(2007.2,1.6),(2007.3,3.85),(2007.4,2.65),(2007.5,1.3),(2007.6,2.45),(2007.7,3.75),(2007.8,1.9),(2007.9,2.3),(2008.0,4.05),(2008.0,0.65),(2008.1,1.45),(2008.2,2.6),(2008.3,1.0),(2008.4,3.1),(2008.5,2.25),(2008.6,1.6),(2008.7,2.8),(2008.8,0.9),(2008.9,2.05),(2009.0,3.45),(2009.1,1.4),(2009.2,2.5),(2009.3,1.75),(2009.4,2.85),(2009.5,0.45),(2009.5,1.2),(2009.6,2.2),(2009.7,2.45),(2009.8,1.6),(2009.9,2.0),(2010.0,1.1),(2010.1,2.8),(2010.2,4.2),(2011.0,4.1),(2011.0,1.25),(2011.1,3.5),(2011.2,1.7),(2011.3,3.0),(2011.4,2.6),(2011.6,2.3),(2011.8,2.75),(2012.0,3.55),(2012.1,2.25),(2012.2,1.35),(2012.4,2.2),(2012.6,2.9),(2012.8,3.45),(2013.0,1.35),(2013.0,2.15),(2013.2,2.0),(2013.3,3.35),(2013.5,2.65),(2013.7,3.1),(2013.9,1.6),(2014.0,3.35),(2014.1,2.15),(2014.2,3.0),(2014.4,2.25),(2014.6,1.75),(2014.8,2.7),(2014.9,3.95),(2015.0,2.0),(2015.1,1.45),(2015.2,3.8),(2015.3,2.2),(2015.4,1.8),(2015.6,1.75),(2015.9,3.05),(2016.0,2.5),(2016.0,2.15)]
zep_pyr_pts_more = [(1994.05,3.2),(1994.15,2.95),(1994.25,3.4),(1994.35,3.05),(1994.45,3.25),(1994.55,2.9),(1994.65,3.35),(1994.75,3.0),(1994.85,3.45),(1994.95,3.15),(1995.05,3.3),(1995.15,3.5),(1995.25,3.1),(1995.35,3.6),(1995.45,3.25),(1995.55,3.0),(1995.65,3.1),(1995.75,3.55),(1995.85,3.3),(1998.05,3.5),(1998.15,3.15),(1998.25,2.8),(1998.35,3.3),(1998.45,2.95),(1998.55,2.6),(1998.65,3.15),(1998.75,2.85),(1998.85,2.5),(1998.95,2.95),(1999.05,2.75),(1999.15,3.15),(1999.25,2.85),(1999.35,2.95),(1999.45,2.8),(1999.55,3.25),(1999.65,2.9),(1999.75,3.1),(1999.85,2.7),(1999.95,3.2),(2000.05,2.8),(2000.15,2.55),(2000.25,2.9),(2000.35,2.65),(2000.45,3.0),(2000.55,2.4),(2000.65,2.8),(2000.75,2.6),(2000.85,2.95),(2000.95,2.35),(2001.05,2.6),(2001.15,2.25),(2001.25,2.75),(2001.35,2.5),(2001.45,2.15),(2001.55,2.6),(2001.65,2.4),(2001.75,2.85),(2001.85,2.3),(2001.95,2.55),(2002.05,2.2),(2002.15,2.7),(2002.25,2.4),(2002.35,2.15),(2002.45,2.55),(2002.55,2.3),(2002.65,2.05),(2002.75,2.45),(2002.85,2.7),(2002.95,2.35),(2003.05,2.1),(2003.15,2.5),(2003.25,2.3),(2003.35,2.65),(2003.45,2.15),(2003.55,2.4),(2003.65,2.0),(2003.75,2.3),(2003.85,2.55),(2003.95,2.1),(2004.05,2.3),(2004.15,1.95),(2004.25,2.4),(2004.35,2.15),(2004.45,1.85),(2004.55,2.2),(2004.65,2.45),(2004.75,1.95),(2004.85,2.25),(2004.95,2.0),(2005.05,2.35),(2005.15,2.1),(2005.25,2.55),(2005.35,2.3),(2005.45,2.0),(2005.55,2.5),(2005.65,2.2),(2005.75,2.6),(2005.85,2.35),(2005.95,2.7),(2006.05,2.4),(2006.15,2.1),(2006.25,2.6),(2006.35,2.35),(2006.45,2.75),(2006.55,2.5),(2006.65,2.15),(2006.75,2.65),(2006.85,2.3),(2006.95,2.55),(2007.05,2.05),(2007.15,2.45),(2007.25,2.25),(2007.35,2.6),(2007.45,2.0),(2007.55,2.35),(2007.65,2.15),(2007.75,2.45),(2007.85,2.05),(2007.95,2.25),(2008.05,1.95),(2008.15,2.3),(2008.25,2.05),(2008.35,2.4),(2008.45,1.85),(2008.55,2.15),(2008.65,1.95),(2008.75,2.25),(2008.85,1.75),(2008.95,2.0),(2009.05,1.85),(2009.15,2.15),(2009.25,1.9),(2009.35,2.25),(2009.45,1.7),(2009.55,2.05),(2009.65,1.85),(2009.75,2.3),(2009.85,1.95),(2009.95,2.2),(2011.05,2.35),(2011.25,2.65),(2011.45,2.4),(2011.65,2.75),(2011.85,2.5),(2012.05,2.8),(2012.25,2.45),(2012.45,2.6),(2012.65,2.35),(2012.85,2.7),(2013.05,2.45),(2013.25,2.8),(2013.45,2.3),(2013.65,2.55),(2013.85,2.75),(2014.05,2.4),(2014.25,2.6),(2014.45,2.2),(2014.65,2.5),(2014.85,2.3),(2015.05,2.15),(2015.25,2.45),(2015.45,2.05),(2015.65,2.3),(2015.85,1.95)]
zep_pyr_trend = [3.17,3.27,3.38,3.52,3.68,3.77,3.72,3.52,3.24,2.98,
                 2.88,2.88,2.84,2.67,2.53,2.45,2.4,2.39,2.38,2.3,
                 2.2,2.16,2.24,2.37,2.44,2.45,2.38,2.28,2.18,2.07,
                 2.0,2.0,2.14,2.36,2.52,2.59,2.62,2.62,2.62,2.6,
                 2.55,2.45,2.32,2.2,2.04]
zep_pyr_band = [0.15,0.12,0.10,0.10,0.10,0.10,0.10,0.10,0.08,0.08,
                0.08,0.08,0.08,0.08,0.08,0.08,0.08,0.08,0.08,0.08,
                0.08,0.08,0.08,0.08,0.08,0.08,0.08,0.08,0.08,0.08,
                0.08,0.10,0.12,0.13,0.14,0.15,0.15,0.15,0.15,0.15,
                0.15,0.15,0.17,0.20,0.25]

# Pallas PYR (panel f)
pal_pyr_pts = [(1996.13,5.09),(1996.08,4.06),(1996.24,4.66),(1996.32,4.6),(1996.42,4.68),(1996.48,4.89),(1996.56,4.26),(1996.64,4.58),(1996.76,5.05),(1996.84,3.54),(1996.93,4.05),(1997.0,3.95),(1997.08,3.07),(1997.14,4.96),(1997.24,2.62),(1997.32,4.11),(1997.4,3.39),(1997.48,3.34),(1997.58,3.41),(1997.69,4.26),(1997.77,3.23),(1997.82,2.84),(1997.93,4.87),(1997.99,3.68),(1998.06,4.18),(1998.14,4.13),(1998.2,3.59),(1998.28,3.89),(1998.36,2.38),(1998.46,3.6),(1998.54,3.52),(1998.62,3.51),(1998.68,3.1),(1998.77,3.76),(1998.85,4.13),(1998.96,4.54),(1999.07,3.83),(1999.17,3.62),(1999.23,4.47),(1999.31,4.57),(1999.41,4.39),(1999.54,4.78),(1999.57,4.09),(1999.65,3.3),(1999.73,4.4),(1999.83,4.0),(1999.91,4.25),(2000.0,4.09),(2000.07,3.11),(2000.15,3.49),(2000.23,2.91),(2000.31,3.98),(2000.4,3.97),(2000.49,3.88),(2000.57,3.74),(2000.65,4.19),(2000.73,4.07),(2000.82,3.79),(2000.92,4.35),(2000.98,3.11),(2001.05,4.53),(2001.13,4.21),(2001.22,3.51),(2001.34,4.36),(2001.42,3.31),(2001.48,3.72),(2001.58,4.02),(2001.66,3.97),(2001.76,3.53),(2001.84,3.31),(2001.92,4.35),(2001.98,2.73),(2002.08,3.95),(2002.16,3.94),(2002.24,3.51),(2002.32,3.39),(2002.4,3.72),(2002.48,3.3),(2002.58,3.8),(2002.66,4.18),(2002.75,3.15),(2002.83,4.65),(2002.9,3.37),(2002.96,2.5),(2003.09,4.44),(2003.15,2.91),(2003.23,3.11),(2003.31,4.11),(2003.41,4.31),(2003.49,3.99),(2003.59,3.7),(2003.67,4.07),(2003.75,3.54),(2003.85,4.1),(2003.91,4.54),(2003.99,4.59),(2004.07,4.05),(2004.17,4.96),(2004.26,4.31),(2004.34,4.44),(2004.44,3.32),(2004.52,4.01),(2004.6,4.18),(2004.68,3.98),(2004.76,4.33),(2004.84,3.48),(2004.94,3.53),(2005.04,4.27),(2005.12,4.65),(2005.2,3.88),(2005.28,3.85),(2005.36,3.94),(2005.42,4.41),(2005.5,4.28),(2005.6,4.16),(2005.68,4.09),(2005.76,4.19),(2005.84,3.51),(2005.94,4.54),(2006.0,4.03),(2006.1,3.06),(2006.16,5.4),(2006.26,3.57),(2006.34,4.8),(2006.42,4.41),(2006.48,3.94),(2006.58,3.57),(2006.68,4.46),(2006.76,3.79),(2006.84,4.17),(2006.9,4.28),(2007.0,3.22),(2007.09,3.03),(2007.19,4.08),(2007.25,3.87),(2007.33,3.51),(2007.4,4.39),(2007.5,3.58),(2007.58,4.05),(2007.69,3.53),(2007.77,4.27),(2007.82,3.2),(2007.9,4.67),(2007.98,3.32),(2008.06,3.56),(2008.15,2.87),(2008.25,3.07),(2008.33,3.59),(2008.41,3.07),(2008.49,4.1),(2008.59,4.53),(2008.67,3.83),(2008.77,3.78),(2008.85,3.34),(2008.93,3.22),(2008.99,4.04),(2009.05,2.86),(2009.15,4.06),(2009.25,3.74),(2009.33,3.63),(2009.42,3.57),(2009.5,3.09),(2009.59,3.63),(2009.67,3.7),(2009.76,3.52),(2009.84,3.62),(2009.94,4.44),(2010.02,4.36),(2010.1,4.36),(2010.18,4.52),(2010.26,3.36),(2010.34,3.91),(2010.42,3.78),(2010.5,3.65),(2010.6,3.78),(2010.68,4.11),(2010.78,3.67),(2010.86,3.66),(2010.94,3.83),(2011.03,4.24),(2011.11,3.66),(2011.19,4.04),(2011.27,3.19),(2011.35,3.36),(2011.45,3.13),(2011.55,3.33),(2011.61,2.9),(2011.69,2.76),(2011.79,3.57),(2011.87,3.09),(2011.95,1.91),(2012.03,3.04),(2012.11,3.89),(2012.21,4.69),(2012.29,3.55),(2012.37,3.87),(2012.45,3.8),(2012.55,3.43),(2012.62,3.99),(2012.7,2.9),(2012.78,3.67),(2012.88,3.27),(2012.96,3.55),(2013.06,5.04),(2013.12,3.0),(2013.19,2.53),(2013.27,3.93),(2013.36,4.78),(2013.43,3.87),(2013.52,4.05),(2013.6,3.8),(2013.68,3.72),(2013.76,3.76),(2013.88,4.76),(2013.94,3.39),(2014.03,3.21),(2014.11,3.58),(2014.2,4.33),(2014.3,3.74),(2014.38,2.71),(2014.46,3.91),(2014.54,3.35),(2014.62,3.87),(2014.7,3.42),(2014.78,3.44),(2014.86,4.08),(2014.95,3.5),(2015.03,3.47),(2015.11,3.91),(2015.2,2.92),(2015.28,3.54),(2015.36,3.78),(2015.44,3.31),(2015.53,3.4),(2015.61,3.89),(2015.69,4.09),(2015.79,3.97),(2015.87,3.7),(2015.94,4.18),(2015.98,3.85)]
pal_pyr_trend = [4.62,4.3,3.99,3.79,3.71,3.74,3.84,3.92,3.91,3.87,
                 3.83,3.77,3.72,3.7,3.78,3.92,4.04,4.1,4.12,4.12,
                 4.09,3.98,3.84,3.73,3.66,3.64,3.67,3.73,3.78,3.74,
                 3.6,3.5,3.47,3.55,3.66,3.73,3.72,3.66,3.65,3.7,
                 3.79]
pal_pyr_band = [0.28,0.20,0.15,0.14,0.13,0.13,0.13,0.13,0.13,0.13,
                0.13,0.13,0.13,0.13,0.13,0.13,0.13,0.13,0.13,0.13,
                0.13,0.13,0.13,0.13,0.13,0.13,0.13,0.13,0.13,0.13,
                0.13,0.13,0.13,0.13,0.13,0.13,0.13,0.13,0.14,0.18,
                0.30]

# Pallas BaP (panel g)
pal_bap_pts = [(1996.0,1.7),(1996.06,3.11),(1996.16,2.5),(1996.24,2.31),(1996.34,3.47),(1996.42,2.6),(1996.5,1.99),(1996.56,3.13),(1996.66,3.33),(1996.74,1.06),(1996.82,0.76),(1996.92,2.96),(1996.98,-0.18),(1997.06,3.41),(1997.24,1.52),(1997.32,0.99),(1997.4,2.62),(1997.48,1.24),(1997.58,2.38),(1997.83,4.12),(1997.9,2.6),(1997.95,0.55),(1998.04,2.41),(1998.12,2.09),(1998.2,1.87),(1998.35,1.37),(1998.52,1.31),(1998.6,0.91),(1998.7,1.44),(1998.78,2.81),(1998.86,3.97),(1998.96,2.77),(1999.05,2.3),(1999.15,2.54),(1999.22,3.16),(1999.31,3.35),(1999.41,4.18),(1999.49,1.95),(1999.57,0.93),(1999.65,1.84),(1999.75,1.87),(1999.83,1.77),(1999.89,0.75),(2000.0,1.18),(2000.08,1.1),(2000.15,0.49),(2000.23,1.91),(2000.32,1.87),(2000.4,1.67),(2000.49,1.67),(2000.57,1.73),(2000.65,2.38),(2000.82,2.14),(2001.0,3.52),(2001.08,2.48),(2001.16,0.82),(2001.26,0.89),(2001.32,0.7),(2001.42,1.44),(2001.5,1.94),(2001.58,4.32),(2001.66,2.88),(2001.74,0.91),(2001.84,3.19),(2001.9,0.67),(2002.0,2.42),(2002.08,2.29),(2002.16,2.31),(2002.24,3.51),(2002.34,2.15),(2002.42,1.07),(2002.5,3.94),(2002.58,3.77),(2002.66,3.89),(2002.74,3.94),(2002.83,3.01),(2002.9,-0.01),(2003.01,2.7),(2003.09,0.55),(2003.17,0.82),(2003.27,2.21),(2003.35,2.8),(2003.43,2.56),(2003.51,2.06),(2003.59,1.73),(2003.67,1.37),(2003.83,3.01),(2003.89,2.78),(2003.99,3.46),(2004.09,3.88),(2004.18,2.52),(2004.26,2.98),(2004.44,4.45),(2004.52,1.83),(2004.6,1.54),(2004.68,1.84),(2004.76,1.33),(2004.86,2.28),(2004.94,2.77),(2005.02,2.99),(2005.1,2.21),(2005.18,1.38),(2005.28,1.33),(2005.36,2.17),(2005.44,1.84),(2005.53,1.31),(2005.62,1.74),(2005.7,1.99),(2005.78,0.23),(2005.87,2.88),(2005.94,1.76),(2006.03,-0.09),(2006.1,3.77),(2006.19,1.1),(2006.27,2.91),(2006.35,2.03),(2006.43,1.05),(2006.51,1.21),(2006.61,2.1),(2006.69,1.6),(2006.77,1.87),(2006.85,0.23),(2006.92,0.73),(2007.01,0.14),(2007.09,1.91),(2007.17,2.11),(2007.25,2.62),(2007.33,2.06),(2007.5,1.1),(2007.59,1.25),(2007.67,2.3),(2007.75,0.07),(2007.85,4.5),(2007.93,1.01),(2008.01,1.8),(2008.09,-0.19),(2008.17,0.36),(2008.25,1.52),(2008.33,-0.09),(2008.43,1.58),(2008.51,1.82),(2008.59,0.85),(2008.67,1.67),(2008.75,-0.75),(2008.85,-0.03),(2008.93,1.89),(2009.01,0.98),(2009.1,2.56),(2009.18,2.02),(2009.26,1.96),(2009.36,1.91),(2009.44,1.01),(2009.52,1.52),(2009.6,1.16),(2009.68,1.05),(2009.78,2.12),(2009.86,2.73),(2009.94,2.89),(2010.02,2.81),(2010.1,2.86),(2010.18,0.71),(2010.26,1.4),(2010.36,1.96),(2010.44,1.91),(2010.61,3.99),(2010.69,1.58),(2010.78,2.31),(2010.86,1.94),(2010.94,2.64),(2011.02,1.74),(2011.11,2.11),(2011.19,1.15),(2011.27,0.73),(2011.37,1.45),(2011.45,1.52),(2011.53,0.25),(2011.61,0.64),(2011.71,1.11),(2011.79,0.68),(2011.87,-0.03),(2011.95,-1.23),(2012.03,2.48),(2012.13,3.03),(2012.21,1.16),(2012.31,1.44),(2012.39,1.96),(2012.46,1.55),(2012.54,2.13),(2012.64,0.89),(2012.72,1.06),(2012.8,1.21),(2012.88,1.38),(2012.98,3.77),(2013.06,0.5),(2013.14,-0.33),(2013.22,1.64),(2013.32,2.62),(2013.48,0.7),(2013.56,4.05),(2013.64,3.28),(2013.72,2.95),(2013.8,3.3),(2013.88,2.6),(2013.97,2.24),(2014.04,1.95),(2014.13,3.0),(2014.21,1.92),(2014.37,1.84),(2014.55,1.27),(2014.63,1.1),(2014.71,1.34),(2014.81,2.66),(2014.87,1.28),(2014.97,1.4),(2015.03,2.34),(2015.13,1.31),(2015.25,1.81),(2015.33,1.99),(2015.41,1.3),(2015.49,2.31),(2015.57,1.3),(2015.67,1.83),(2015.74,2.02),(2015.82,2.04),(2015.9,2.62),(2015.98,1.06)]
pal_bap_trend = [2.48,2.33,2.2,2.12,2.07,2.1,2.15,2.1,1.95,1.8,
                 1.87,2.05,2.22,2.35,2.42,2.43,2.47,2.42,2.25,2.0,
                 1.76,1.6,1.48,1.38,1.29,1.27,1.44,1.68,1.86,1.9,
                 1.7,1.46,1.33,1.42,1.65,1.9,2.09,2.04,1.95,1.85,
                 1.76]
pal_bap_band = [0.50,0.37,0.31,0.30,0.30,0.30,0.30,0.30,0.30,0.30,
                0.30,0.30,0.30,0.30,0.30,0.30,0.30,0.30,0.30,0.30,
                0.30,0.30,0.30,0.30,0.30,0.30,0.30,0.30,0.30,0.30,
                0.30,0.30,0.30,0.30,0.30,0.30,0.30,0.30,0.32,0.40,
                0.50]

column_titles = ["Alert", "Zeppelin", "Pallas"]
row_titles = ["PHE", "PYR", "BaP"]

# ---------------- STYLE / LAYOUT ----------------
sns.set_theme(style="white")
plt.rcParams['font.family'] = ['Liberation Sans', 'DejaVu Sans']

W, H = 1519, 1165
fig = plt.figure(figsize=(W / 100, H / 100), dpi=100)

def add_ax(l, t, r, b):
    return fig.add_axes([l / W, 1 - b / H, (r - l) / W, (b - t) / H])

panels = [
    dict(letter="a", title="Alert-PHE Trend and seasonally adjusted data",
         pts=alert_phe_pts + alert_phe_pts_more,
         trend=alert_phe_trend, band=alert_phe_band, x0=1992, ylim=(0, 7), ystep=1,
         box=(96, 68, 512, 397), lpos=(66, 78)),
    dict(letter="b", title="Zeppelin-PHE Trend and seasonally adjusted data",
         pts=zep_phe_pts + zep_phe_pts_more,
         trend=zep_phe_trend, band=zep_phe_band, x0=1994, ylim=(1, 7), ystep=1,
         box=(586, 68, 1002, 397), lpos=(557, 85)),
    dict(letter="c", title="Pallas-PHE Trend and seasonally adjusted data", pts=pal_phe_pts,
         trend=pal_phe_trend, band=pal_phe_band, x0=1996, ylim=(3.5, 7), ystep=0.5,
         box=(1088, 68, 1503, 397), lpos=(1050, 78)),
    dict(letter="d", title="Alert-PYR Trend and seasonally adjusted data",
         pts=alert_pyr_pts + alert_pyr_pts_more,
         trend=alert_pyr_trend, band=alert_pyr_band, x0=1992, ylim=(-1, 6), ystep=1,
         box=(96, 443, 512, 772), lpos=(60, 458)),
    dict(letter="e", title="Zeppelin-PYR Trend and seasonally adjusted data",
         pts=zep_pyr_pts + zep_pyr_pts_more,
         trend=zep_pyr_trend, band=zep_pyr_band, x0=1994, ylim=(0, 7), ystep=1,
         box=(588, 443, 1004, 772), lpos=(557, 455)),
    dict(letter="f", title="Pallas-PYR Trend and seasonally adjusted data", pts=pal_pyr_pts,
         trend=pal_pyr_trend, band=pal_pyr_band, x0=1996, ylim=(1.5, 5.5), ystep=0.5,
         box=(1089, 443, 1504, 771), lpos=(1048, 452)),
    dict(letter="g", title="Pallas-BaP Trend and seasonally adjusted data", pts=pal_bap_pts,
         trend=pal_bap_trend, band=pal_bap_band, x0=1996, ylim=(-2, 5), ystep=1,
         box=(1089, 819, 1504, 1148), lpos=(1050, 832)),
]

fmt = FuncFormatter(lambda v, p: f"{v:g}")
spine_col = "#8a8a8a"

for p in panels:
    ax = add_ax(*p["box"])
    pts = pd.DataFrame(p["pts"], columns=["year", "lnC"])
    years = np.arange(p["x0"], 2016.01, 0.5)
    tr = np.array(p["trend"])
    bd = np.array(p["band"])
    ax.fill_between(years, tr - bd, tr + bd, color="#c8c8c8", linewidth=0, zorder=1)
    sns.scatterplot(data=pts, x="year", y="lnC", ax=ax, s=4, color="black",
                    linewidth=0, legend=False, zorder=2)
    sns.lineplot(x=years, y=tr, ax=ax, color="#d9534f", linewidth=0.8,
                 estimator=None, sort=False, zorder=3)
    ax.set_xlim(p["x0"], 2016)
    ax.set_ylim(*p["ylim"])
    ax.set_xticks(np.arange(p["x0"], 2016.5, 2))
    ax.set_yticks(np.arange(p["ylim"][0], p["ylim"][1] + 1e-6, p["ystep"]))
    ax.yaxis.set_major_formatter(fmt)
    ax.xaxis.set_major_formatter(FuncFormatter(lambda v, q: f"{int(round(v))}"))
    for s in ["top", "right"]:
        ax.spines[s].set_visible(False)
    for s in ["left", "bottom"]:
        ax.spines[s].set_color(spine_col)
        ax.spines[s].set_linewidth(0.8)
    ax.tick_params(direction="in", length=3, width=0.6, color=spine_col,
                   labelsize=7, labelcolor="#333333")
    ax.tick_params(axis="x", pad=3.5)
    ax.tick_params(axis="y", pad=2.5)
    ax.set_xlabel("")
    ax.set_ylabel("ln C (pg/m3)", fontsize=6.5, color="#333333", labelpad=3)
    ax.set_title(p["title"], fontsize=6.5, color="#333333", pad=6)
    ax.grid(False)
    fig.text(p["lpos"][0] / W, 1 - p["lpos"][1] / H, p["letter"], fontsize=26,
             ha="center", va="center", color="black")

# column titles
for name, xc in zip(column_titles, [315, 800, 1298]):
    fig.text(xc / W, 1 - 24 / H, name, fontsize=29, fontweight="bold",
             ha="center", va="center", color="black")
# row titles
for name, yc in zip(row_titles, [233, 610, 990]):
    fig.text(33 / W, 1 - yc / H, name, fontsize=28, fontweight="bold",
             ha="center", va="center", rotation=90, color="black")

fig.savefig("out.png", dpi=100)
